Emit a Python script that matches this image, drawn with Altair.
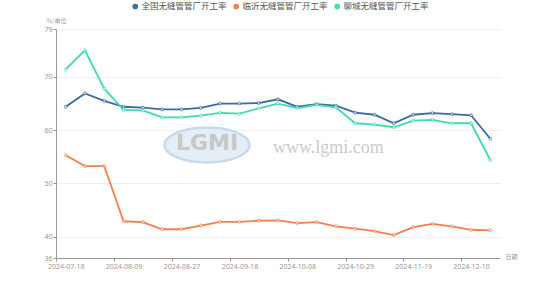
import altair as alt
import pandas as pd

dates = ["2024-07-18", "2024-07-25", "2024-08-01", "2024-08-09", "2024-08-15", "2024-08-22",
         "2024-08-27", "2024-09-05", "2024-09-12", "2024-09-18", "2024-09-26", "2024-09-29",
         "2024-10-08", "2024-10-15", "2024-10-22", "2024-10-29", "2024-11-05", "2024-11-12",
         "2024-11-19", "2024-11-26", "2024-12-03", "2024-12-10", "2024-12-17"]
national = [64.4, 66.9, 65.5, 64.4, 64.25, 63.9, 63.9, 64.2, 65.0, 65.0, 65.1, 65.8,
            64.4, 64.9, 64.6, 63.3, 62.9, 61.3, 62.9, 63.2, 63.0, 62.8, 58.4]
linyi = [55.3, 53.25, 53.25, 42.9, 42.75, 41.4, 41.4, 42.1, 42.8, 42.8, 43.0, 43.05,
         42.55, 42.75, 41.95, 41.5, 41.05, 40.3, 41.8, 42.4, 41.95, 41.3, 41.2]
liaocheng = [71.4, 75.0, 67.8, 63.8, 63.7, 62.4, 62.4, 62.75, 63.25, 63.1, 64.1, 65.0,
             64.15, 64.75, 64.3, 61.3, 61.05, 60.55, 61.8, 61.95, 61.3, 61.3, 54.4]
series_names = ["全国无缝管管厂开工率", "临沂无缝管管厂开工率", "聊城无缝管管厂开工率"]
colors = ["#3a6aa3", "#f47f4c", "#3fdbb0"]
label_dates = dates[::3]
y_ticks = [36, 40, 50, 60, 70, 79]
y_domain = [36, 79]

rows = []
for name, vals in zip(series_names, [national, linyi, liaocheng]):
    for d, v in zip(dates, vals):
        rows.append({"date": d, "series": name, "value": v})
df = pd.DataFrame(rows)

W, H = 444, 229
step = W / len(dates)
FONT = "Noto Sans"
CJK = "Noto Sans CJK SC"

x_enc = alt.X(
    "date:O", sort=dates,
    scale=alt.Scale(type="point", padding=0.5),
    axis=alt.Axis(
        values=label_dates, labelAngle=0, tickOffset=-step / 2, labelOffset=step / 2,
        grid=False, domainColor="#999999", tickColor="#999999", tickSize=3,
        labelFontSize=7, labelColor="#999999", labelFont=FONT, labelPadding=1,
        title="日期", titleFont=CJK, titleFontSize=6, titleFontWeight="normal",
        titleColor="#999999", titleAnchor="start", titleAlign="left",
        titleX=W + 5, titleY=-2, titleBaseline="middle",
    ),
)
y_enc = alt.Y(
    "value:Q",
    scale=alt.Scale(domain=y_domain, nice=False, zero=False),
    axis=alt.Axis(
        values=y_ticks, grid=True, gridColor="#eeeeee", domainColor="#999999",
        tickColor="#999999", tickSize=3, labelFontSize=7, labelColor="#999999",
        labelFont=FONT, labelPadding=1,
        title="%/单位", titleFont=CJK, titleFontSize=6, titleFontWeight="normal",
        titleColor="#999999", titleAngle=0, titleAlign="left", titleBaseline="middle",
        titleX=-10, titleY=-9,
    ),
)

base = alt.Chart(df)
color_scale = alt.Scale(domain=series_names, range=colors)

lines = base.mark_line(strokeWidth=1.8).encode(
    x=x_enc, y=y_enc,
    color=alt.Color("series:N", sort=series_names, scale=color_scale,
                    legend=alt.Legend(
                        orient="none", legendX=75, legendY=-27, direction="horizontal",
                        title=None, symbolType="circle", symbolSize=7,
                        symbolStrokeWidth=3, labelFont=CJK, labelFontSize=8.5,
                        labelColor="#555555", labelOffset=2, columnPadding=1, padding=0,
                    )),
)
points = base.mark_point(shape="circle", filled=True, fill="white", strokeWidth=1,
                         size=9).encode(
    x=x_enc, y=y_enc,
    stroke=alt.Stroke("series:N", sort=series_names, scale=color_scale, legend=None),
)

wm = alt.Chart(pd.DataFrame({"t": ["LGMI"]}))
ellipse = wm.mark_point(
    shape="M -1 0 A 1 0.41 0 1 1 1 0 A 1 0.41 0 1 1 -1 0 Z",
    filled=True, fill="#e3ecf6", stroke="#c2d6ed", strokeWidth=2.5, opacity=0.9, size=7225,
).encode(x=alt.value(151), y=alt.value(116))
logo_text = wm.mark_text(font="DejaVu Sans", fontSize=22, fontWeight="bold",
                         color="#c8c8c8", align="center", baseline="middle").encode(
    x=alt.value(151), y=alt.value(114), text="t:N")
site = alt.Chart(pd.DataFrame({"t": ["www.lgmi.com"]})).mark_text(
    font="Liberation Serif", fontSize=18, color="#cbcbcb", align="left",
    baseline="alphabetic").encode(x=alt.value(217), y=alt.value(124), text="t:N")

chart = alt.layer(ellipse, logo_text, site, lines, points).properties(
    width=W, height=H,
    autosize=alt.AutoSizeParams(type="none"),
    padding={"left": 56, "top": 29, "right": 54, "bottom": 34},
    background="white",
).configure_view(stroke=None)

chart.save("out.html", embed_options={"renderer": "svg", "actions": False})
